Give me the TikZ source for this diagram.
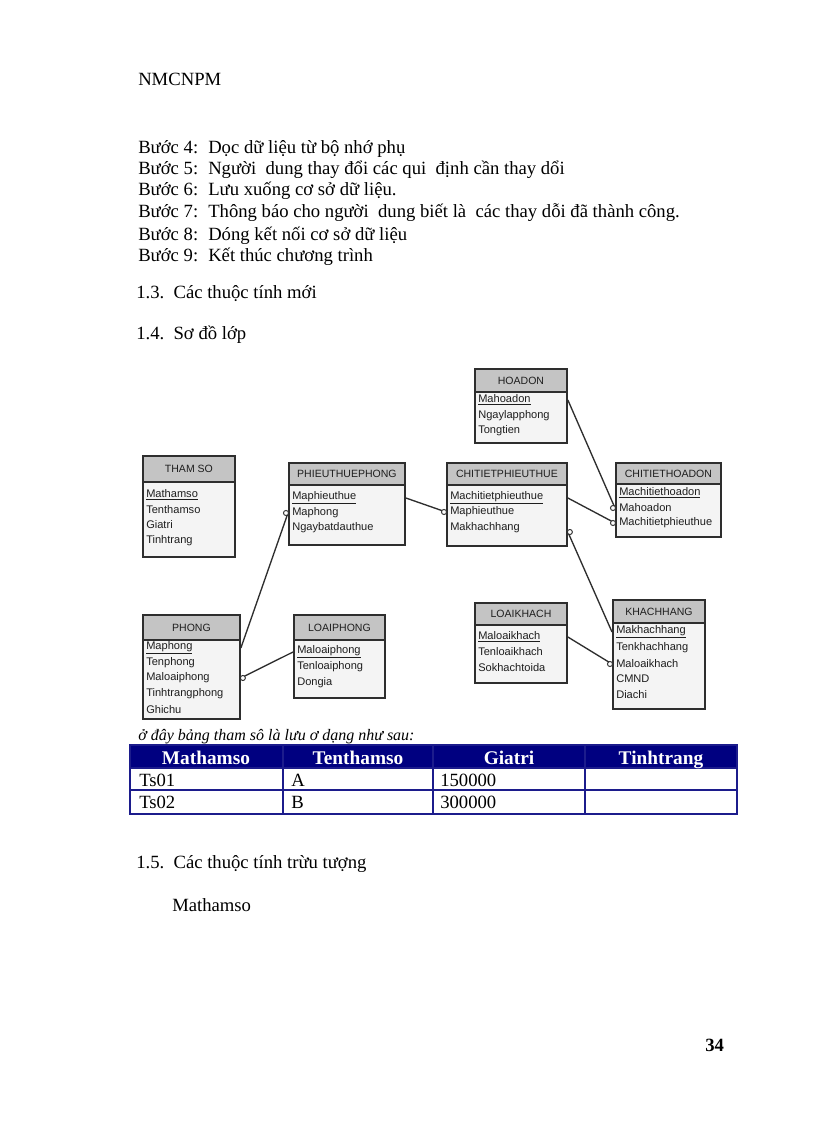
\documentclass[tikz,border=0pt]{standalone}
\usepackage{fontspec}
\setmainfont{Liberation Serif}
\setsansfont{Liberation Sans}
\definecolor{boxline}{HTML}{2E2E2E}
\definecolor{hdrfill}{HTML}{C4C4C4}
\definecolor{bodyfill}{HTML}{F4F4F4}
\definecolor{boxtext}{HTML}{1E1E1E}
\definecolor{navyfill}{HTML}{000080}
\definecolor{tblline}{HTML}{1C1C8C}
\newcommand{\ent}[7]{%
  \node[bodybox, anchor=north west, minimum width={(#5-#2)*0.75pt}, minimum height={(#6-#4)*0.75pt}] (#1) at (#2,#4) {};
  \node[hdrbox, anchor=north west, minimum width={(#5-#2)*0.75pt}, minimum height={(#4-#3)*0.75pt}] (#1-h) at (#2,#3) {};
  \node[ttl] (#1-t) at (#1-h.center) {#7};
}
\begin{document}
\begin{tikzpicture}[x=0.75pt,y=-0.75pt,
  txt/.style={anchor=base west, inner sep=0pt, font=\fontsize{14}{16}\selectfont},
  bodybox/.style={draw=boxline, fill=bodyfill, line width=1.4pt, inner sep=0pt},
  hdrbox/.style={draw=boxline, fill=hdrfill, line width=1.4pt, inner sep=0pt},
  ttl/.style={inner sep=0pt, text=boxtext, font=\sffamily\fontsize{7.9}{9}\selectfont},
  fld/.style={anchor=west, inner sep=0pt, text=boxtext, font=\sffamily\fontsize{8.3}{9}\selectfont},
  conn/.style={draw=boxline, line width=1pt},
  endc/.style={circle, draw=boxline, fill=white, inner sep=0pt, minimum size=3.8pt, line width=0.7pt},
  thd/.style={anchor=base, inner sep=0pt, text=white, font=\bfseries\fontsize{14.5}{16}\selectfont},
  tcell/.style={anchor=base west, inner sep=0pt, font=\fontsize{14}{16}\selectfont}
]
\useasboundingbox (0,0) rectangle (816,1123);
\fill[white] (0,0) rectangle (816,1123);

% ---- page text ----
\node[txt] (head) at (138,86) {NMCNPM};
\node[txt] (s4l) at (138,154) {Bước 4:};
\node[txt] (s4) at (208,154) {Dọc dữ liệu từ bộ nhớ phụ};
\node[txt] (s5l) at (138,175) {Bước 5:};
\node[txt] (s5) at (208,175) {Người\ \ dung thay đổi các qui\ \ định cần thay dổi};
\node[txt] (s6l) at (138,196) {Bước 6:};
\node[txt] (s6) at (208,196) {Lưu xuống cơ sở dữ liệu.};
\node[txt] (s7l) at (138,218) {Bước 7:};
\node[txt] (s7) at (208,218) {Thông báo cho người\ \ dung biết là\ \ các thay dỗi đã thành công.};
\node[txt] (s8l) at (138,240) {Bước 8:};
\node[txt] (s8) at (208,240) {Dóng kết nối cơ sở dữ liệu};
\node[txt] (s9l) at (138,261) {Bước 9:};
\node[txt] (s9) at (208,261) {Kết thúc chương trình};
\node[txt] (sec13) at (136,298) {1.3.\ \ Các thuộc tính mới};
\node[txt] (sec14) at (136,339) {1.4.\ \ Sơ đồ lớp};

% ---- class diagram ----
\ent{tham}{142}{455}{481}{234}{556}{THAM SO}
\node[fld] (tham-1) at (146,495) {\underline{Mathamso}};
\node[fld] (tham-2) at (146,510) {Tenthamso};
\node[fld] (tham-3) at (146,525) {Giatri};
\node[fld] (tham-4) at (146,541) {Tinhtrang};

\ent{ptp}{288}{462}{484}{404}{544}{PHIEUTHUEPHONG}
\node[fld] (ptp-1) at (292,498) {\underline{Maphieuthue}};
\node[fld] (ptp-2) at (292,513) {Maphong};
\node[fld] (ptp-3) at (292,528) {Ngaybatdauthue};

\ent{hd}{474}{368}{391}{566}{442}{HOADON}
\node[fld] (hd-1) at (478,400) {\underline{Mahoadon}};
\node[fld] (hd-2) at (478,416) {Ngaylapphong};
\node[fld] (hd-3) at (478,431) {Tongtien};

\ent{ctpt}{446}{462}{484}{566}{545}{CHITIETPHIEUTHUE}
\node[fld] (ctpt-1) at (450,498) {\underline{Machitietphieuthue}};
\node[fld] (ctpt-2) at (450,512) {Maphieuthue};
\node[fld] (ctpt-3) at (450,528) {Makhachhang};

\ent{cthd}{615}{462}{483}{720}{536}{CHITIETHOADON}
\node[fld] (cthd-1) at (619,493) {\underline{Machitiethoadon}};
\node[fld] (cthd-2) at (619,508) {Mahoadon};
\node[fld] (cthd-3) at (619,523) {Machitietphieuthue};

\ent{phong}{142}{614}{639}{239}{718}{PHONG}
\node[fld] (phong-1) at (146,648) {\underline{Maphong}};
\node[fld] (phong-2) at (146,663) {Tenphong};
\node[fld] (phong-3) at (146,678) {Maloaiphong};
\node[fld] (phong-4) at (146,694) {Tinhtrangphong};
\node[fld] (phong-5) at (146,710) {Ghichu};

\ent{lp}{293}{614}{639}{384}{697}{LOAIPHONG}
\node[fld] (lp-1) at (297,652) {\underline{Maloaiphong}};
\node[fld] (lp-2) at (297,667) {Tenloaiphong};
\node[fld] (lp-3) at (297,683) {Dongia};

\ent{lk}{474}{602}{624}{566}{682}{LOAIKHACH}
\node[fld] (lk-1) at (478,637) {\underline{Maloaikhach}};
\node[fld] (lk-2) at (478,652) {Tenloaikhach};
\node[fld] (lk-3) at (478,668) {Sokhachtoida};

\ent{kh}{612}{599}{622}{704}{708}{KHACHHANG}
\node[fld] (kh-1) at (616,632) {\underline{Makhachhang}};
\node[fld] (kh-2) at (616,648) {Tenkhachhang};
\node[fld] (kh-3) at (616,664) {Maloaikhach};
\node[fld] (kh-4) at (616,679) {CMND};
\node[fld] (kh-5) at (616,695) {Diachi};

% ---- connectors ----
\draw[conn] (phong.east |- phong-1) -- (ptp.west |- ptp-2);
\node[endc] (m1) at ([xshift=-1.5pt]ptp.west |- ptp-2) {};
\draw[conn] (phong.east |- phong-3) -- (lp.west |- lp-1);
\node[endc] (m2) at ([xshift=1.5pt]phong.east |- phong-3) {};
\draw[conn] (ptp.east |- ptp-1) -- (ctpt.west |- ctpt-2);
\node[endc] (m3) at ([xshift=-1.5pt]ctpt.west |- ctpt-2) {};
\draw[conn] (hd.east |- hd-1) -- (cthd.west |- cthd-2);
\node[endc] (m4) at ([xshift=-1.5pt]cthd.west |- cthd-2) {};
\draw[conn] (ctpt.east |- ctpt-1) -- (cthd.west |- cthd-3);
\node[endc] (m5) at ([xshift=-1.5pt]cthd.west |- cthd-3) {};
\draw[conn] ([yshift=-3pt]ctpt.east |- ctpt-3) -- (kh.west |- kh-1);
\node[endc] (m6) at ([xshift=1.5pt,yshift=-3pt]ctpt.east |- ctpt-3) {};
\draw[conn] (lk.east |- lk-1) -- (kh.west |- kh-3);
\node[endc] (m7) at ([xshift=-1.5pt]kh.west |- kh-3) {};

% ---- caption and table ----
\node[txt, font=\itshape\fontsize{12}{14}\selectfont] (cap) at (138,740) {ở đây bảng tham sô là lưu ơ dạng như sau:};
\fill[navyfill] (130,745) rectangle (737,768);
\draw[tblline, line width=1.1pt] (130,768) -- (737,768);
\draw[tblline, line width=1.1pt] (130,790) -- (737,790);
\draw[tblline, line width=1.1pt] (283,745) -- (283,814);
\draw[tblline, line width=1.1pt] (433,745) -- (433,814);
\draw[tblline, line width=1.1pt] (585,745) -- (585,814);
\draw[tblline, line width=1.5pt] (130,745) rectangle (737,814);
\node[thd] (th1) at (206,764) {Mathamso};
\node[thd] (th2) at (358,764) {Tenthamso};
\node[thd] (th3) at (509,764) {Giatri};
\node[thd] (th4) at (661,764) {Tinhtrang};
\node[tcell] (r1c1) at (139,786) {Ts01};
\node[tcell] (r1c2) at (291,786) {A};
\node[tcell] (r1c3) at (440,786) {150000};
\node[tcell] (r2c1) at (139,808) {Ts02};
\node[tcell] (r2c2) at (291,808) {B};
\node[tcell] (r2c3) at (440,808) {300000};

% ---- bottom text ----
\node[txt] (sec15) at (136,868) {1.5.\ \ Các thuộc tính trừu tượng};
\node[txt] (mts) at (172,911) {Mathamso};
\node[txt, font=\bfseries\fontsize{14}{16}\selectfont] (pg) at (705,1051) {34};
\end{tikzpicture}
\end{document}
